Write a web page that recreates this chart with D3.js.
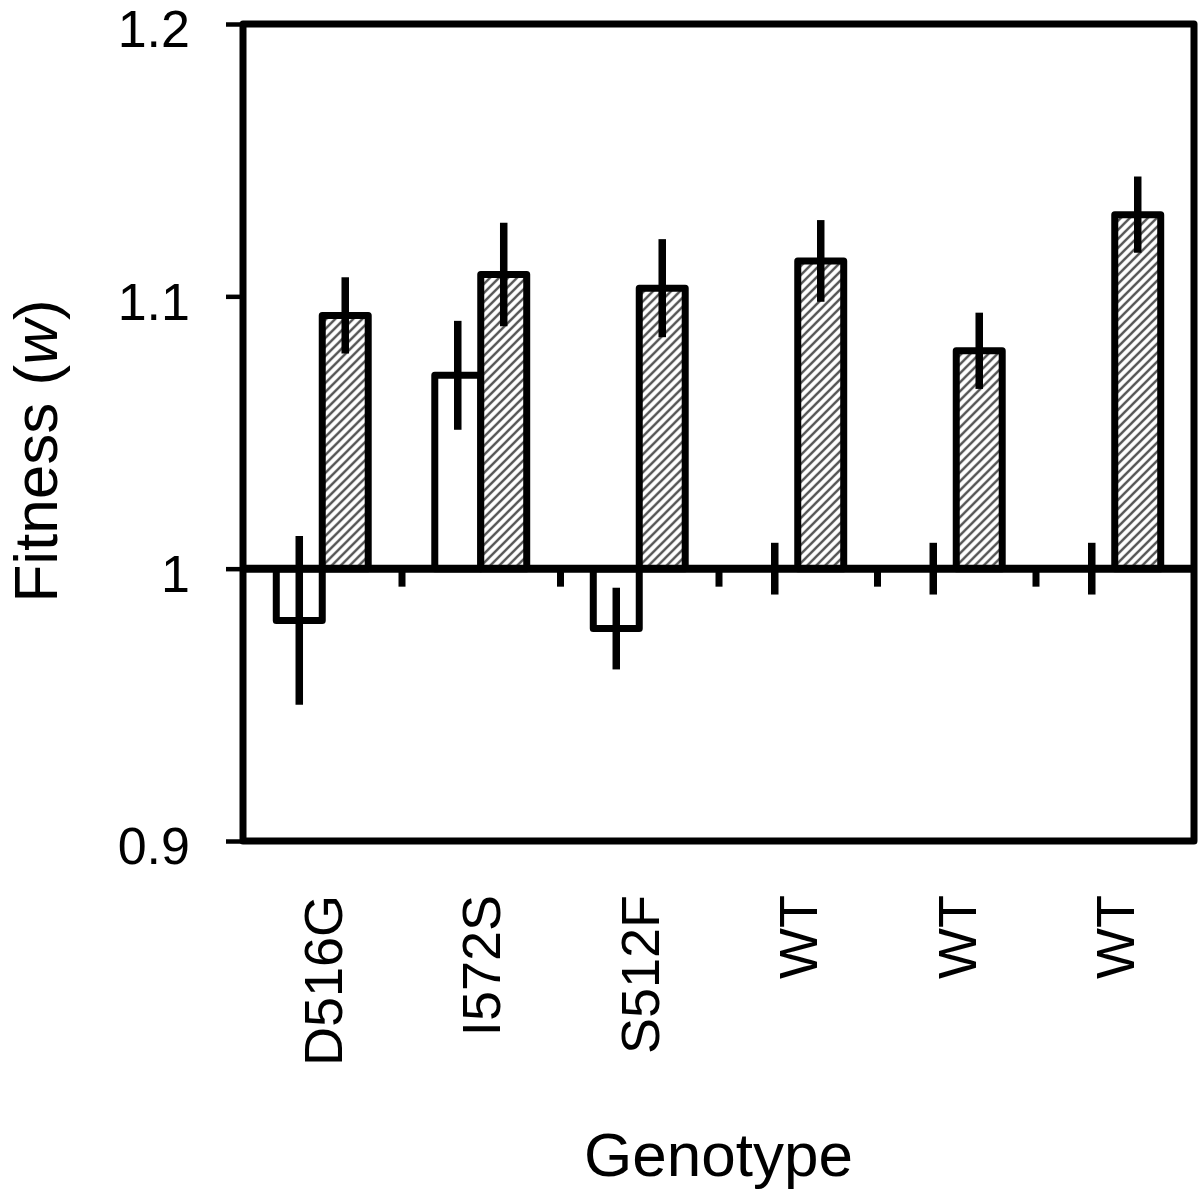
<!DOCTYPE html>
<html>
<head>
<meta charset="utf-8">
<script src="https://cdn.jsdelivr.net/npm/d3@7"></script>
<style>
  html, body { margin: 0; padding: 0; background: #fff; }
  svg { display: block; font-family: "Liberation Sans", Arial, Helvetica, sans-serif; }
</style>
</head>
<body>
<div id="chart"></div>
<script>
// data
const categories = ["D516G", "I572S", "S512F", "WT", "WT", "WT"];
const openValues = [0.981, 1.071, 0.978, 1.000, 1.000, 1.000];
const openErrors = [0.031, 0.020, 0.015, 0.0095, 0.0095, 0.0095];
const hatchedValues = [1.093, 1.108, 1.103, 1.113, 1.080, 1.130];
const hatchedErrors = [0.014, 0.019, 0.018, 0.015, 0.014, 0.014];
const yTicks = [0.9, 1.0, 1.1, 1.2];
const yTickLabels = ["0.9", "1", "1.1", "1.2"];
const series = ["open", "hatched"];

const width = 1200, height = 1192;
const plot = { left: 243, right: 1194, top: 24, bottom: 841 };

const svg = d3.select("#chart").append("svg")
  .attr("width", width)
  .attr("height", height);

// diagonal hatch for the second series
const defs = svg.append("defs");
const pat = defs.append("pattern")
  .attr("id", "hatch")
  .attr("patternUnits", "userSpaceOnUse")
  .attr("width", 9)
  .attr("height", 9);
pat.append("rect").attr("width", 9).attr("height", 9).attr("fill", "#fff");
pat.append("path")
  .attr("d", "M-2,2 L2,-2 M0,9 L9,0 M7,11 L11,7")
  .attr("stroke", "#555")
  .attr("stroke-width", 2.4);

const idx = d3.range(categories.length);

const x = d3.scaleBand()
  .domain(idx)
  .range([plot.left, plot.right])
  .paddingInner(0.42)
  .paddingOuter(0.21);

const xSub = d3.scaleBand()
  .domain(series)
  .range([0, x.bandwidth()]);

const y = d3.scaleLinear()
  .domain([0.9, 1.2])
  .range([plot.bottom, plot.top]);

// category boundaries for the little ticks under the 1.0 line
const xEdge = d3.scaleLinear()
  .domain([0, categories.length])
  .range([plot.left, plot.right]);

const rows = idx.map(i => ({
  i,
  bars: [
    { key: "open", value: openValues[i], err: openErrors[i] },
    { key: "hatched", value: hatchedValues[i], err: hatchedErrors[i] }
  ]
}));

// y axis ticks + labels
const yAxis = d3.axisLeft(y)
  .tickValues(yTicks)
  .tickSize(17)
  .tickPadding(36)
  .tickFormat((d, i) => yTickLabels[i]);

const gy = svg.append("g")
  .attr("transform", `translate(${plot.left},0)`)
  .call(yAxis);
gy.select(".domain").remove();
gy.selectAll(".tick line").attr("stroke", "#000").attr("stroke-width", 4.5);
gy.selectAll(".tick text")
  .attr("fill", "#000")
  .attr("dy", "0.44em")
  .style("font-size", "52px")
  .style("font-family", "'Liberation Sans', Arial, Helvetica, sans-serif");

// bars
const groups = svg.selectAll("g.grp")
  .data(rows)
  .enter()
  .append("g")
  .attr("class", "grp")
  .attr("transform", d => `translate(${x(d.i)},0)`);

groups.selectAll("rect")
  .data(d => d.bars)
  .enter()
  .append("rect")
  .attr("x", d => xSub(d.key))
  .attr("y", d => y(Math.max(d.value, 1)))
  .attr("width", xSub.bandwidth())
  .attr("height", d => Math.abs(y(d.value) - y(1)))
  .attr("fill", d => d.key === "hatched" ? "url(#hatch)" : "#fff")
  .attr("stroke", "#000")
  .attr("stroke-width", 7)
  .attr("stroke-linejoin", "round");

// baseline at w = 1
svg.append("line")
  .attr("x1", plot.left)
  .attr("x2", plot.right)
  .attr("y1", y(1))
  .attr("y2", y(1))
  .attr("stroke", "#000")
  .attr("stroke-width", 8);

// boundary ticks hanging from the baseline
const gx = svg.append("g")
  .attr("transform", `translate(0,${y(1)})`)
  .call(d3.axisBottom(xEdge).tickValues(d3.range(1, categories.length)).tickSize(18).tickFormat(""));
gx.select(".domain").remove();
gx.selectAll(".tick line").attr("stroke", "#000").attr("stroke-width", 7);

// error bars
groups.selectAll("line.err")
  .data(d => d.bars)
  .enter()
  .append("line")
  .attr("class", "err")
  .attr("x1", d => xSub(d.key) + xSub.bandwidth() / 2)
  .attr("x2", d => xSub(d.key) + xSub.bandwidth() / 2)
  .attr("y1", d => y(d.value + d.err))
  .attr("y2", d => y(d.value - d.err))
  .attr("stroke", "#000")
  .attr("stroke-width", 7.5);

// plot frame
svg.append("rect")
  .attr("x", plot.left)
  .attr("y", plot.top)
  .attr("width", plot.right - plot.left)
  .attr("height", plot.bottom - plot.top)
  .attr("fill", "none")
  .attr("stroke", "#000")
  .attr("stroke-width", 7)
  .attr("stroke-linejoin", "round");

// category labels, rotated
svg.selectAll("text.cat")
  .data(idx)
  .enter()
  .append("text")
  .attr("class", "cat")
  .attr("transform", i => `translate(${x(i) + x.bandwidth() / 2},895) rotate(-90)`)
  .attr("text-anchor", "end")
  .attr("dy", "0.36em")
  .style("font-size", "54px")
  .attr("fill", "#000")
  .text(i => categories[i]);

// axis titles
svg.append("text")
  .attr("x", (plot.left + plot.right) / 2)
  .attr("y", 1176)
  .attr("text-anchor", "middle")
  .style("font-size", "62px")
  .attr("fill", "#000")
  .text("Genotype");

const yt = svg.append("text")
  .attr("transform", "translate(57,451) rotate(-90)")
  .attr("text-anchor", "middle")
  .style("font-size", "62px")
  .attr("fill", "#000");
yt.append("tspan").text("Fitness (");
yt.append("tspan").style("font-style", "italic").text("w");
yt.append("tspan").text(")");
</script>
</body>
</html>
